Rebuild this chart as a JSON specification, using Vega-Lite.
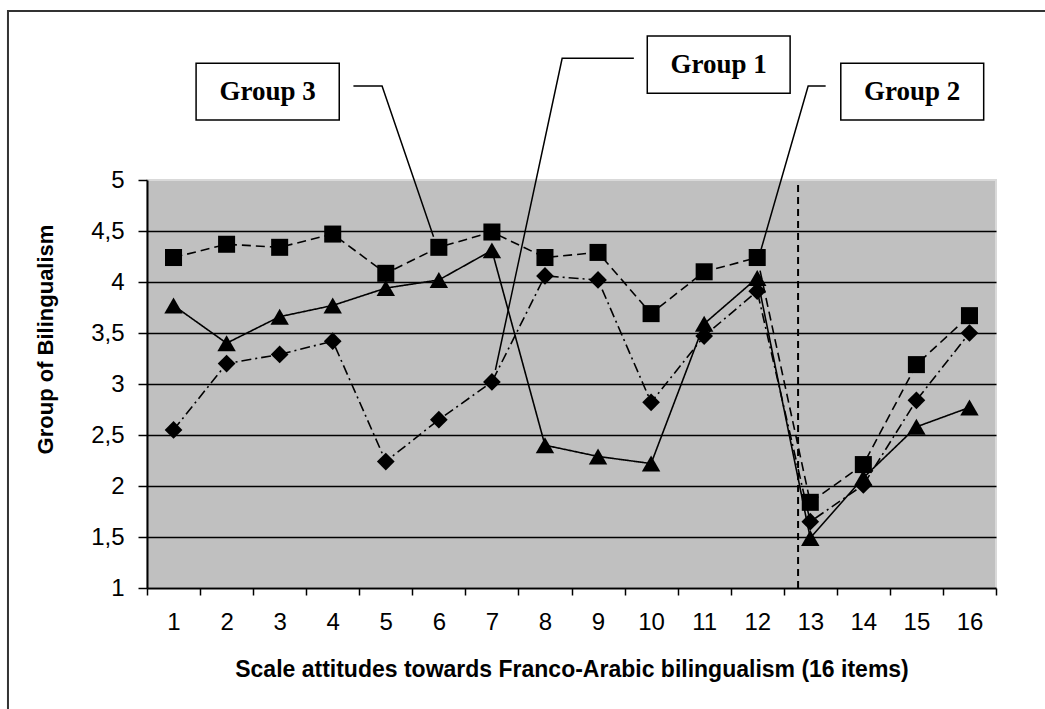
{
  "$schema": "https://vega.github.io/schema/vega-lite/v6.json",
  "width": 849,
  "height": 408,
  "autosize": {"type": "none"},
  "padding": {"left": 147, "top": 180, "right": 49, "bottom": 121},
  "background": "white",
  "config": {
    "view": {"fill": "#c0c0c0", "stroke": "#d9d9d9", "strokeWidth": 2},
    "font": "Liberation Sans"
  },
  "datasets": {
    "series": [
      {"group": "Group 3", "item": 1, "value": 4.24},
      {"group": "Group 3", "item": 2, "value": 4.37},
      {"group": "Group 3", "item": 3, "value": 4.34},
      {"group": "Group 3", "item": 4, "value": 4.47},
      {"group": "Group 3", "item": 5, "value": 4.085},
      {"group": "Group 3", "item": 6, "value": 4.34},
      {"group": "Group 3", "item": 7, "value": 4.49},
      {"group": "Group 3", "item": 8, "value": 4.24},
      {"group": "Group 3", "item": 9, "value": 4.29},
      {"group": "Group 3", "item": 10, "value": 3.69},
      {"group": "Group 3", "item": 11, "value": 4.10},
      {"group": "Group 3", "item": 12, "value": 4.24},
      {"group": "Group 3", "item": 13, "value": 1.84},
      {"group": "Group 3", "item": 14, "value": 2.21},
      {"group": "Group 3", "item": 15, "value": 3.19},
      {"group": "Group 3", "item": 16, "value": 3.67},
      {"group": "Group 1", "item": 1, "value": 2.55},
      {"group": "Group 1", "item": 2, "value": 3.20},
      {"group": "Group 1", "item": 3, "value": 3.29},
      {"group": "Group 1", "item": 4, "value": 3.42},
      {"group": "Group 1", "item": 5, "value": 2.24},
      {"group": "Group 1", "item": 6, "value": 2.65},
      {"group": "Group 1", "item": 7, "value": 3.02},
      {"group": "Group 1", "item": 8, "value": 4.06},
      {"group": "Group 1", "item": 9, "value": 4.02},
      {"group": "Group 1", "item": 10, "value": 2.82},
      {"group": "Group 1", "item": 11, "value": 3.47},
      {"group": "Group 1", "item": 12, "value": 3.91},
      {"group": "Group 1", "item": 13, "value": 1.65},
      {"group": "Group 1", "item": 14, "value": 2.01},
      {"group": "Group 1", "item": 15, "value": 2.84},
      {"group": "Group 1", "item": 16, "value": 3.50},
      {"group": "Group 2", "item": 1, "value": 3.77},
      {"group": "Group 2", "item": 2, "value": 3.40},
      {"group": "Group 2", "item": 3, "value": 3.66},
      {"group": "Group 2", "item": 4, "value": 3.77},
      {"group": "Group 2", "item": 5, "value": 3.94},
      {"group": "Group 2", "item": 6, "value": 4.02},
      {"group": "Group 2", "item": 7, "value": 4.31},
      {"group": "Group 2", "item": 8, "value": 2.40},
      {"group": "Group 2", "item": 9, "value": 2.29},
      {"group": "Group 2", "item": 10, "value": 2.22},
      {"group": "Group 2", "item": 11, "value": 3.59},
      {"group": "Group 2", "item": 12, "value": 4.04},
      {"group": "Group 2", "item": 13, "value": 1.49},
      {"group": "Group 2", "item": 14, "value": 2.08},
      {"group": "Group 2", "item": 15, "value": 2.58},
      {"group": "Group 2", "item": 16, "value": 2.77}
    ],
    "frame": [{"item": -2.12, "item2": 17.6, "value": 6.657, "value2": -0.4}],
    "divider": [{"item": 12.77, "value": 1, "value2": 5}],
    "leaders": [
      {"callout": "Group 3", "seq": 1, "item": 4.39, "value": 5.922},
      {"callout": "Group 3", "seq": 2, "item": 4.93, "value": 5.922},
      {"callout": "Group 3", "seq": 3, "item": 5.90, "value": 4.444},
      {"callout": "Group 1", "seq": 1, "item": 9.675, "value": 6.193},
      {"callout": "Group 1", "seq": 2, "item": 8.324, "value": 6.193},
      {"callout": "Group 1", "seq": 3, "item": 7.066, "value": 3.137},
      {"callout": "Group 2", "seq": 1, "item": 13.29, "value": 5.922},
      {"callout": "Group 2", "seq": 2, "item": 12.96, "value": 5.922},
      {"callout": "Group 2", "seq": 3, "item": 12.07, "value": 4.314}
    ],
    "boxes": [
      {"label": "Group 3", "item": 1.425, "item2": 4.123, "value": 6.144, "value2": 5.588, "cx": 2.774, "cy": 5.866},
      {"label": "Group 1", "item": 9.928, "item2": 12.62, "value": 6.412, "value2": 5.850, "cx": 11.274, "cy": 6.131},
      {"label": "Group 2", "item": 13.575, "item2": 16.268, "value": 6.144, "value2": 5.588, "cx": 14.92, "cy": 5.866}
    ]
  },
  "encoding": {
    "x": {
      "field": "item",
      "type": "quantitative",
      "scale": {"domain": [0.5, 16.5], "nice": false, "zero": false},
      "axis": {
        "title": "Scale attitudes towards Franco-Arabic bilingualism  (16 items)",
        "values": [0.5, 1, 1.5, 2, 2.5, 3, 3.5, 4, 4.5, 5, 5.5, 6, 6.5, 7, 7.5, 8, 8.5, 9, 9.5, 10, 10.5, 11, 11.5, 12, 12.5, 13, 13.5, 14, 14.5, 15, 15.5, 16, 16.5],
        "labelExpr": "datum.value % 1 === 0 ? '' + datum.value : ''",
        "tickOpacity": {"condition": {"test": "datum.value % 1 === 0", "value": 0}, "value": 1},
        "grid": false,
        "domainColor": "black",
        "domainWidth": 2,
        "tickColor": "black",
        "tickWidth": 1.5,
        "tickSize": 7,
        "labelFontSize": 24,
        "labelColor": "black",
        "labelPadding": 15,
        "labelFlush": false,
        "labelOverlap": false,
        "labelBound": false,
        "titleFontSize": 23,
        "titleFontWeight": "bold",
        "titleColor": "black",
        "titlePadding": 24
      }
    },
    "y": {
      "field": "value",
      "type": "quantitative",
      "scale": {"domain": [1, 5], "nice": false, "zero": false},
      "axis": {
        "title": "Group of Bilingualism",
        "values": [1, 1.5, 2, 2.5, 3, 3.5, 4, 4.5, 5],
        "format": ".1~f",
        "labelExpr": "replace(datum.label, '.', ',')",
        "grid": true,
        "gridColor": "black",
        "gridWidth": 1.5,
        "gridOpacity": {"condition": {"test": "datum.value === 5 || datum.value === 1", "value": 0}, "value": 1},
        "domainColor": "black",
        "domainWidth": 2,
        "tickColor": "black",
        "tickWidth": 1.5,
        "tickSize": 9,
        "labelFontSize": 24,
        "labelColor": "black",
        "labelPadding": 14,
        "labelFlush": false,
        "labelOverlap": false,
        "titleFontSize": 22,
        "titleFontWeight": "bold",
        "titleColor": "black",
        "titlePadding": 33,
        "titleY": 159
      }
    }
  },
  "layer": [
    {
      "data": {"name": "frame"},
      "mark": {"type": "rect", "fill": "white", "fillOpacity": 0, "stroke": "#333333", "strokeWidth": 2},
      "encoding": {"x2": {"field": "item2"}, "y2": {"field": "value2"}}
    },
    {
      "data": {"name": "series"},
      "mark": {"type": "line", "color": "black", "strokeWidth": 1.6},
      "encoding": {
        "detail": {"field": "group"},
        "strokeDash": {
          "field": "group",
          "type": "nominal",
          "scale": {"domain": ["Group 3", "Group 1", "Group 2"], "range": [[9, 5], [10, 4, 2, 4], [1, 0]]},
          "legend": null
        }
      }
    },
    {
      "data": {"name": "series"},
      "mark": {"type": "point", "filled": true, "color": "black", "opacity": 1},
      "encoding": {
        "shape": {
          "field": "group",
          "type": "nominal",
          "scale": {"domain": ["Group 3", "Group 1", "Group 2"], "range": ["square", "diamond", "triangle-up"]},
          "legend": null
        },
        "size": {
          "field": "group",
          "type": "nominal",
          "scale": {"domain": ["Group 3", "Group 1", "Group 2"], "range": [290, 340, 400]},
          "legend": null
        }
      }
    },
    {
      "data": {"name": "divider"},
      "mark": {"type": "rule", "color": "black", "strokeWidth": 2, "strokeDash": [7, 5]},
      "encoding": {"y2": {"field": "value2"}}
    },
    {
      "data": {"name": "leaders"},
      "mark": {"type": "line", "color": "black", "strokeWidth": 1.5},
      "encoding": {
        "detail": {"field": "callout"},
        "order": {"field": "seq", "type": "quantitative"}
      }
    },
    {
      "data": {"name": "boxes"},
      "mark": {"type": "rect", "fill": "white", "stroke": "black", "strokeWidth": 1.5},
      "encoding": {"x2": {"field": "item2"}, "y2": {"field": "value2"}}
    },
    {
      "data": {"name": "boxes"},
      "mark": {"type": "text", "font": "Liberation Serif", "fontWeight": "bold", "fontSize": 27, "color": "black", "align": "center", "baseline": "middle"},
      "encoding": {
        "x": {"field": "cx", "type": "quantitative"},
        "y": {"field": "cy", "type": "quantitative"},
        "text": {"field": "label"}
      }
    }
  ]
}
